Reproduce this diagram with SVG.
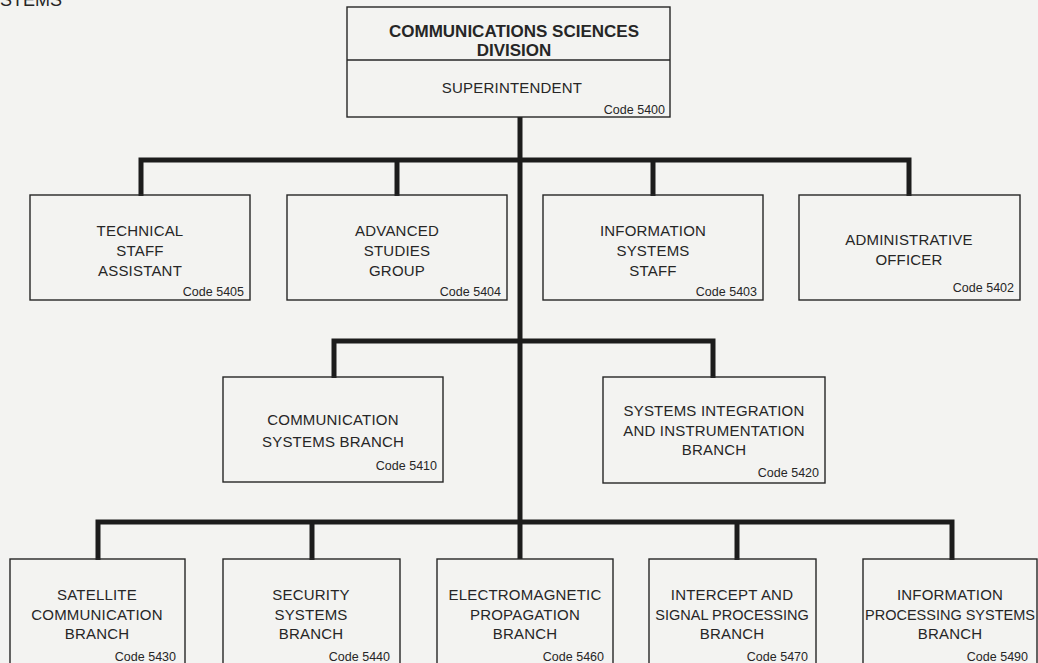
<svg xmlns="http://www.w3.org/2000/svg" width="1038" height="663" viewBox="0 0 1038 663">
  <style>
    .bg { fill: #f3f3f1; }
    .box { fill: none; stroke: #262626; stroke-width: 1.4; }
    .conn { fill: none; stroke: #1c1c1c; stroke-width: 5; stroke-linejoin: miter; stroke-linecap: butt; }
    text { font-family: "Liberation Sans", Arial, Helvetica, sans-serif; fill: #262626; }
    .t { font-size: 15px; text-anchor: middle; letter-spacing: 0.2px; }
    .tight { font-size: 14.5px; letter-spacing: 0; }
    .title { font-size: 17px; font-weight: bold; text-anchor: middle; }
    .code { font-size: 12.5px; text-anchor: end; }
    .hdr { font-size: 18px; }
  </style>

  <rect class="bg" x="0" y="0" width="1038" height="663"/>

  <!-- page header fragment -->
  <text class="hdr" x="-24" y="6">SYSTEMS</text>

  <!-- connectors -->
  <g id="connectors">
    <path class="conn" d="M520 117 V559"/>
    <path class="conn" d="M141 196 V160 H909 V196"/>
    <path class="conn" d="M397 160 V196"/>
    <path class="conn" d="M653 160 V196"/>
    <path class="conn" d="M334 378 V341 H713 V378"/>
    <path class="conn" d="M98 560 V522 H952 V560"/>
    <path class="conn" d="M312 522 V560"/>
    <path class="conn" d="M737 522 V560"/>
  </g>

  <!-- division head -->
  <g id="division">
    <rect class="box" x="347" y="7" width="323" height="110"/>
    <line class="box" x1="347" y1="60" x2="670" y2="60"/>
    <text class="title" x="514" y="37">COMMUNICATIONS SCIENCES</text>
    <text class="title" x="514" y="56">DIVISION</text>
    <text class="t" x="512" y="93">SUPERINTENDENT</text>
    <text class="code" x="665" y="114">Code 5400</text>
  </g>

  <!-- staff level -->
  <g id="n5405">
    <rect class="box" x="30" y="195" width="220" height="105"/>
    <text class="t" x="140" y="236">TECHNICAL</text>
    <text class="t" x="140" y="256">STAFF</text>
    <text class="t" x="140" y="276">ASSISTANT</text>
    <text class="code" x="244" y="296">Code 5405</text>
  </g>
  <g id="n5404">
    <rect class="box" x="287" y="195" width="220" height="105"/>
    <text class="t" x="397" y="236">ADVANCED</text>
    <text class="t" x="397" y="256">STUDIES</text>
    <text class="t" x="397" y="276">GROUP</text>
    <text class="code" x="501" y="296">Code 5404</text>
  </g>
  <g id="n5403">
    <rect class="box" x="543" y="195" width="220" height="105"/>
    <text class="t" x="653" y="236">INFORMATION</text>
    <text class="t" x="653" y="256">SYSTEMS</text>
    <text class="t" x="653" y="276">STAFF</text>
    <text class="code" x="757" y="296">Code 5403</text>
  </g>
  <g id="n5402">
    <rect class="box" x="799" y="195" width="221" height="105"/>
    <text class="t" x="909" y="245">ADMINISTRATIVE</text>
    <text class="t" x="909" y="265">OFFICER</text>
    <text class="code" x="1014" y="292">Code 5402</text>
  </g>

  <!-- intermediate branches -->
  <g id="n5410">
    <rect class="box" x="223" y="377" width="220" height="105"/>
    <text class="t" x="333" y="425">COMMUNICATION</text>
    <text class="t" x="333" y="447">SYSTEMS BRANCH</text>
    <text class="code" x="437" y="470">Code 5410</text>
  </g>
  <g id="n5420">
    <rect class="box" x="603" y="377" width="222" height="106"/>
    <text class="t" x="714" y="416">SYSTEMS INTEGRATION</text>
    <text class="t" x="714" y="436">AND INSTRUMENTATION</text>
    <text class="t" x="714" y="455">BRANCH</text>
    <text class="code" x="819" y="477">Code 5420</text>
  </g>

  <!-- branch level -->
  <g id="n5430">
    <rect class="box" x="10" y="559" width="175" height="110"/>
    <text class="t" x="97" y="600">SATELLITE</text>
    <text class="t" x="97" y="620">COMMUNICATION</text>
    <text class="t" x="97" y="639">BRANCH</text>
    <text class="code" x="176" y="661">Code 5430</text>
  </g>
  <g id="n5440">
    <rect class="box" x="223" y="559" width="177" height="110"/>
    <text class="t" x="311" y="600">SECURITY</text>
    <text class="t" x="311" y="620">SYSTEMS</text>
    <text class="t" x="311" y="639">BRANCH</text>
    <text class="code" x="390" y="661">Code 5440</text>
  </g>
  <g id="n5460">
    <rect class="box" x="437" y="559" width="176" height="110"/>
    <text class="t" x="525" y="600">ELECTROMAGNETIC</text>
    <text class="t" x="525" y="620">PROPAGATION</text>
    <text class="t" x="525" y="639">BRANCH</text>
    <text class="code" x="604" y="661">Code 5460</text>
  </g>
  <g id="n5470">
    <rect class="box" x="649" y="559" width="167" height="110"/>
    <text class="t" x="732" y="600">INTERCEPT AND</text>
    <text class="t tight" x="732" y="620">SIGNAL PROCESSING</text>
    <text class="t" x="732" y="639">BRANCH</text>
    <text class="code" x="808" y="661">Code 5470</text>
  </g>
  <g id="n5490">
    <rect class="box" x="863" y="559" width="174" height="110"/>
    <text class="t" x="950" y="600">INFORMATION</text>
    <text class="t tight" x="950" y="620">PROCESSING SYSTEMS</text>
    <text class="t" x="950" y="639">BRANCH</text>
    <text class="code" x="1028" y="661">Code 5490</text>
  </g>
</svg>
